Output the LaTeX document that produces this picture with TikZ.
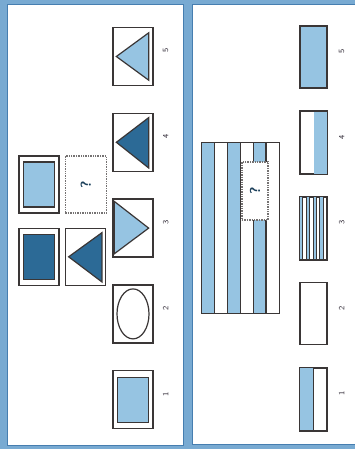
\documentclass[tikz,border=0pt]{standalone}
\usepackage{tikz}
\usetikzlibrary{shapes.geometric, positioning, calc}
\definecolor{scanblue}{RGB}{120,170,210}
\definecolor{rimblue}{RGB}{70,126,176}
\definecolor{paleblue}{RGB}{150,196,226}
\definecolor{deepblue}{RGB}{44,106,150}
\definecolor{inkgray}{RGB}{58,54,54}
\definecolor{numink}{RGB}{50,44,56}
\tikzset{
    cellbox/.style={rectangle, draw=inkgray, fill=white, line width=1.3pt, inner sep=0pt, minimum width=40pt, minimum height=57pt},
    innerbox/.style={rectangle, draw=inkgray, fill=#1, line width=1.3pt, inner sep=0pt, minimum width=31pt, minimum height=45pt},
    gapbox/.style={rectangle, draw=inkgray!70, fill=white, densely dotted, line width=1.4pt, inner sep=0pt},
    stripbox/.style={rectangle, draw=inkgray, line width=1.3pt, inner sep=0pt, minimum width=27pt, minimum height=62pt},
    trifill/.style={draw=inkgray, fill=#1, line width=1.2pt, line join=miter},
    qmark/.style={font=\sffamily\bfseries\Large, text=deepblue!60!black, rotate=90},
    optnum/.style={font=\sffamily\footnotesize, text=numink, rotate=90}
}

\begin{document}
\begin{tikzpicture}[x=1pt, y=-1pt]
\useasboundingbox (0,0) rectangle (355,449);

% scanned page frame
\fill[scanblue] (0,0) rectangle (355,449);
\draw[draw=rimblue, fill=white, line width=1pt] (7,5) rectangle (183,445);
\draw[draw=rimblue, fill=white, line width=1pt] (192,5) rectangle (358,444);

% left panel: matrix
\node[cellbox] (a1) at (39,184.5) {};
\node[innerbox=paleblue] at (a1) {};
\node[gapbox, minimum width=41pt, minimum height=57pt, right=5pt of a1] (b1) {};
\node[qmark] at (b1) {?};
\node[cellbox, below=14pt of a1] (a2) {};
\node[innerbox=deepblue] at (a2) {};
\node[cellbox, right=5pt of a2] (b2) {};
\draw[trifill=deepblue] ($(b2.west)+(4pt,0)$) -- ($(b2.north east)+(-4pt,-5pt)$) -- ($(b2.south east)+(-4pt,4pt)$) -- cycle;

% left panel: options
\node[cellbox, minimum height=58pt] (o5) at (133,56.5) {};
\node[cellbox, minimum height=58pt, below=26.5pt of o5] (o4) {};
\node[cellbox, minimum height=58pt, below=26.5pt of o4] (o3) {};
\node[cellbox, minimum height=58pt, below=26.5pt of o3] (o2) {};
\node[cellbox, minimum height=58pt, below=26.5pt of o2] (o1) {};

\draw[trifill=paleblue] ($(o5.west)+(4pt,0)$) -- ($(o5.north east)+(-5pt,-6pt)$) -- ($(o5.south east)+(-5pt,6pt)$) -- cycle;
\draw[trifill=deepblue] ($(o4.west)+(4pt,0)$) -- ($(o4.north east)+(-5pt,-5pt)$) -- ($(o4.south east)+(-5pt,4pt)$) -- cycle;
\draw[trifill=paleblue] ($(o3.north west)+(2pt,-3pt)$) -- ($(o3.east)+(-5pt,0)$) -- ($(o3.south west)+(2pt,4pt)$) -- cycle;
\node[ellipse, draw=inkgray, line width=1.2pt, inner sep=0pt, minimum width=32pt, minimum height=50pt] at (o2) {};
\node[innerbox=paleblue] at (o1) {};

\foreach \k in {1,...,5}
    \node[optnum, right=12pt of o\k] (n\k) {\k};

% right panel: striped figure
\node[rectangle, inner sep=0pt, minimum width=77pt, minimum height=170pt] (grid) at (240.5,228) {};
\foreach \i in {0,2,4}
    \fill[paleblue] ($(grid.north west)+({\i*77pt/6},0)$) rectangle ($(grid.south west)+({(\i+1)*77pt/6},0)$);
\foreach \i in {1,...,5}
    \draw[inkgray, line width=1.2pt] ($(grid.north west)+({\i*77pt/6},0)$) -- ($(grid.south west)+({\i*77pt/6},0)$);
\draw[inkgray, line width=1.3pt] (grid.north west) rectangle (grid.south east);
\node[gapbox, minimum width=26pt, minimum height=58pt] (gap) at (255,191) {};
\node[qmark] at (gap) {?};

% right panel: options
\node[stripbox, fill=paleblue] (p5) at (313.5,57) {};
\node[stripbox, below=22.3pt of p5] (p4) {};
\node[stripbox, below=22.3pt of p4] (p3) {};
\node[stripbox, fill=white, below=22.3pt of p3] (p2) {};
\node[stripbox, below=22.3pt of p2] (p1) {};

\fill[paleblue] (p4.north) rectangle (p4.south east);
\fill[paleblue] (p1.north west) rectangle (p1.south);
\draw[inkgray, line width=1.2pt] (p1.north) -- (p1.south);
\foreach \i in {0,2,4,6}
    \fill[paleblue] ($(p3.north west)+({\i*27pt/8},0)$) rectangle ($(p3.south west)+({(\i+1)*27pt/8},0)$);
\foreach \i in {1,...,7}
    \draw[inkgray, line width=0.7pt] ($(p3.north west)+({\i*27pt/8},0)$) -- ($(p3.south west)+({\i*27pt/8},0)$);
\foreach \k in {1,3,4}
    \draw[inkgray, line width=1.3pt] (p\k.north west) rectangle (p\k.south east);

\foreach \k in {1,...,5}
    \node[optnum, right=14pt of p\k] (m\k) {\k};

\end{tikzpicture}
\end{document}
